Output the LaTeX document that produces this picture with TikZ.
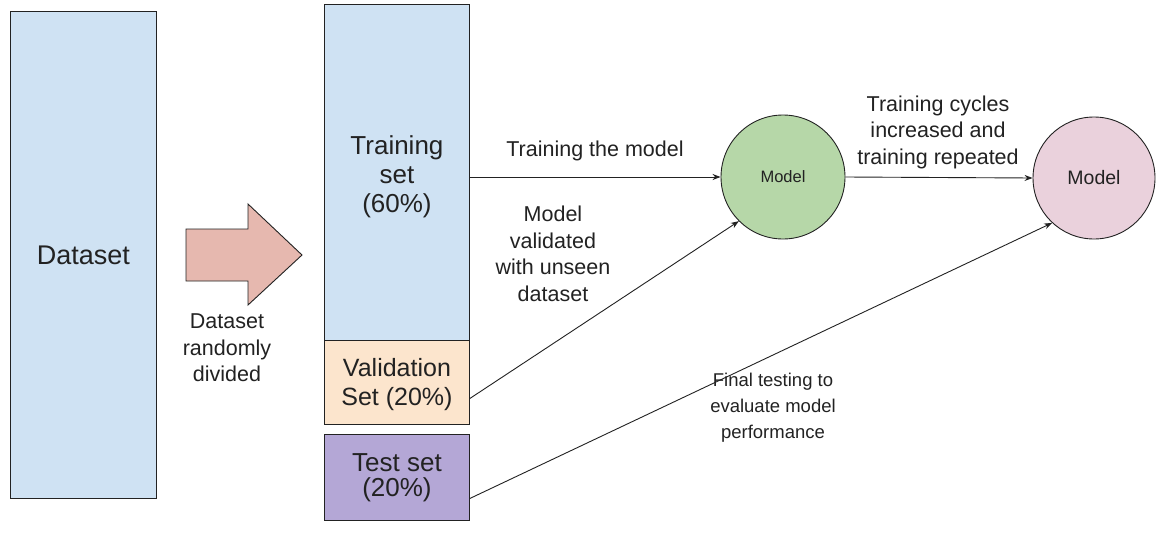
\documentclass[tikz,border=0pt]{standalone}
\usepackage{fontspec}
\setmainfont{Liberation Sans}
\usetikzlibrary{arrows.meta}

\definecolor{dsblue}{HTML}{CFE2F3}
\definecolor{splitpink}{HTML}{E6B8AF}
\definecolor{valpeach}{HTML}{FCE5CD}
\definecolor{testpurple}{HTML}{B4A7D6}
\definecolor{modelgreen}{HTML}{B6D7A8}
\definecolor{modelpink}{HTML}{EAD1DC}
\definecolor{ink}{HTML}{222222}

\tikzset{
  box/.style={draw=ink, line width=0.9pt, anchor=north west, inner sep=0pt,
              align=center, text=ink},
  boxtext/.style={align=center, text=ink},
  modelnode/.style={circle, draw=ink, line width=0.9pt, inner sep=0pt,
                    text=ink},
  conn/.style={draw=ink, line width=0.9pt, -{Stealth[length=8pt,width=6pt]}},
  lbl/.style={align=center, text=ink, font=\fontsize{21.5}{26.5}\selectfont},
}

\begin{document}
\begin{tikzpicture}[x=1pt, y=-1pt]
  \useasboundingbox (0,0) rectangle (1156,546);
  \fill[white] (0,0) rectangle (1156,546);

  % source data
  \node[box, fill=dsblue, minimum width=146pt, minimum height=487pt,
        font=\fontsize{27}{32}\selectfont] (ds) at (10,11) {Dataset};

  % block arrow for the random split
  \draw[ink, line width=0.9pt, fill=splitpink, line join=miter]
    (186,229) -- (248,229) -- (248,204) -- (302,255) -- (248,305)
    -- (248,281) -- (186,281) -- cycle;
  \node[lbl] (splitlbl) at (227,348) {Dataset\\randomly\\divided};

  % the three partitions
  \node[box, fill=dsblue, minimum width=145pt, minimum height=336pt]
        (train) at (324,4) {};
  \node[boxtext, font=\fontsize{26}{29}\selectfont]
        (traintext) at ([yshift=-4pt]train.center) {Training\\set\\(60\%)};
  \node[box, fill=valpeach, minimum width=145pt, minimum height=84pt]
        (val) at (324,340) {};
  \node[boxtext, font=\fontsize{25}{29}\selectfont]
        (valtext) at ([yshift=-2.5pt]val.center) {Validation\\Set (20\%)};
  \node[box, fill=testpurple, minimum width=145pt, minimum height=86pt,
        font=\fontsize{26}{25}\selectfont] (test) at (324,434)
        {Test set\\(20\%)};

  % models
  \node[modelnode, fill=modelgreen, minimum size=124pt,
        font=\fontsize{16.5}{20}\selectfont] (m1) at (783,177) {Model};
  \node[modelnode, fill=modelpink, minimum size=122pt,
        font=\fontsize{19.5}{23}\selectfont] (m2) at (1094,178) {Model};

  % connectors
  \draw[conn] (m1.west -| train.east) -- (m1.west);
  \draw[conn] ([yshift=-16pt]val.east) -- (m1.225);
  \draw[conn] ([yshift=-21pt]test.east) -- (m2.227);
  \draw[conn] (m1.east) -- (m2.west);

  % connector labels
  \node[lbl] (trainlbl) at (595,151) {Training the model};
  \node[lbl] (vallbl) at (553,254) {Model\\validated\\with unseen\\dataset};
  \node[lbl] (cyclelbl) at (938,132)
        {Training cycles\\increased and\\training repeated};
  \node[lbl, font=\fontsize{18.5}{26}\selectfont] (testlbl) at (773,408)
        {Final testing to\\evaluate model\\performance};
\end{tikzpicture}
\end{document}
